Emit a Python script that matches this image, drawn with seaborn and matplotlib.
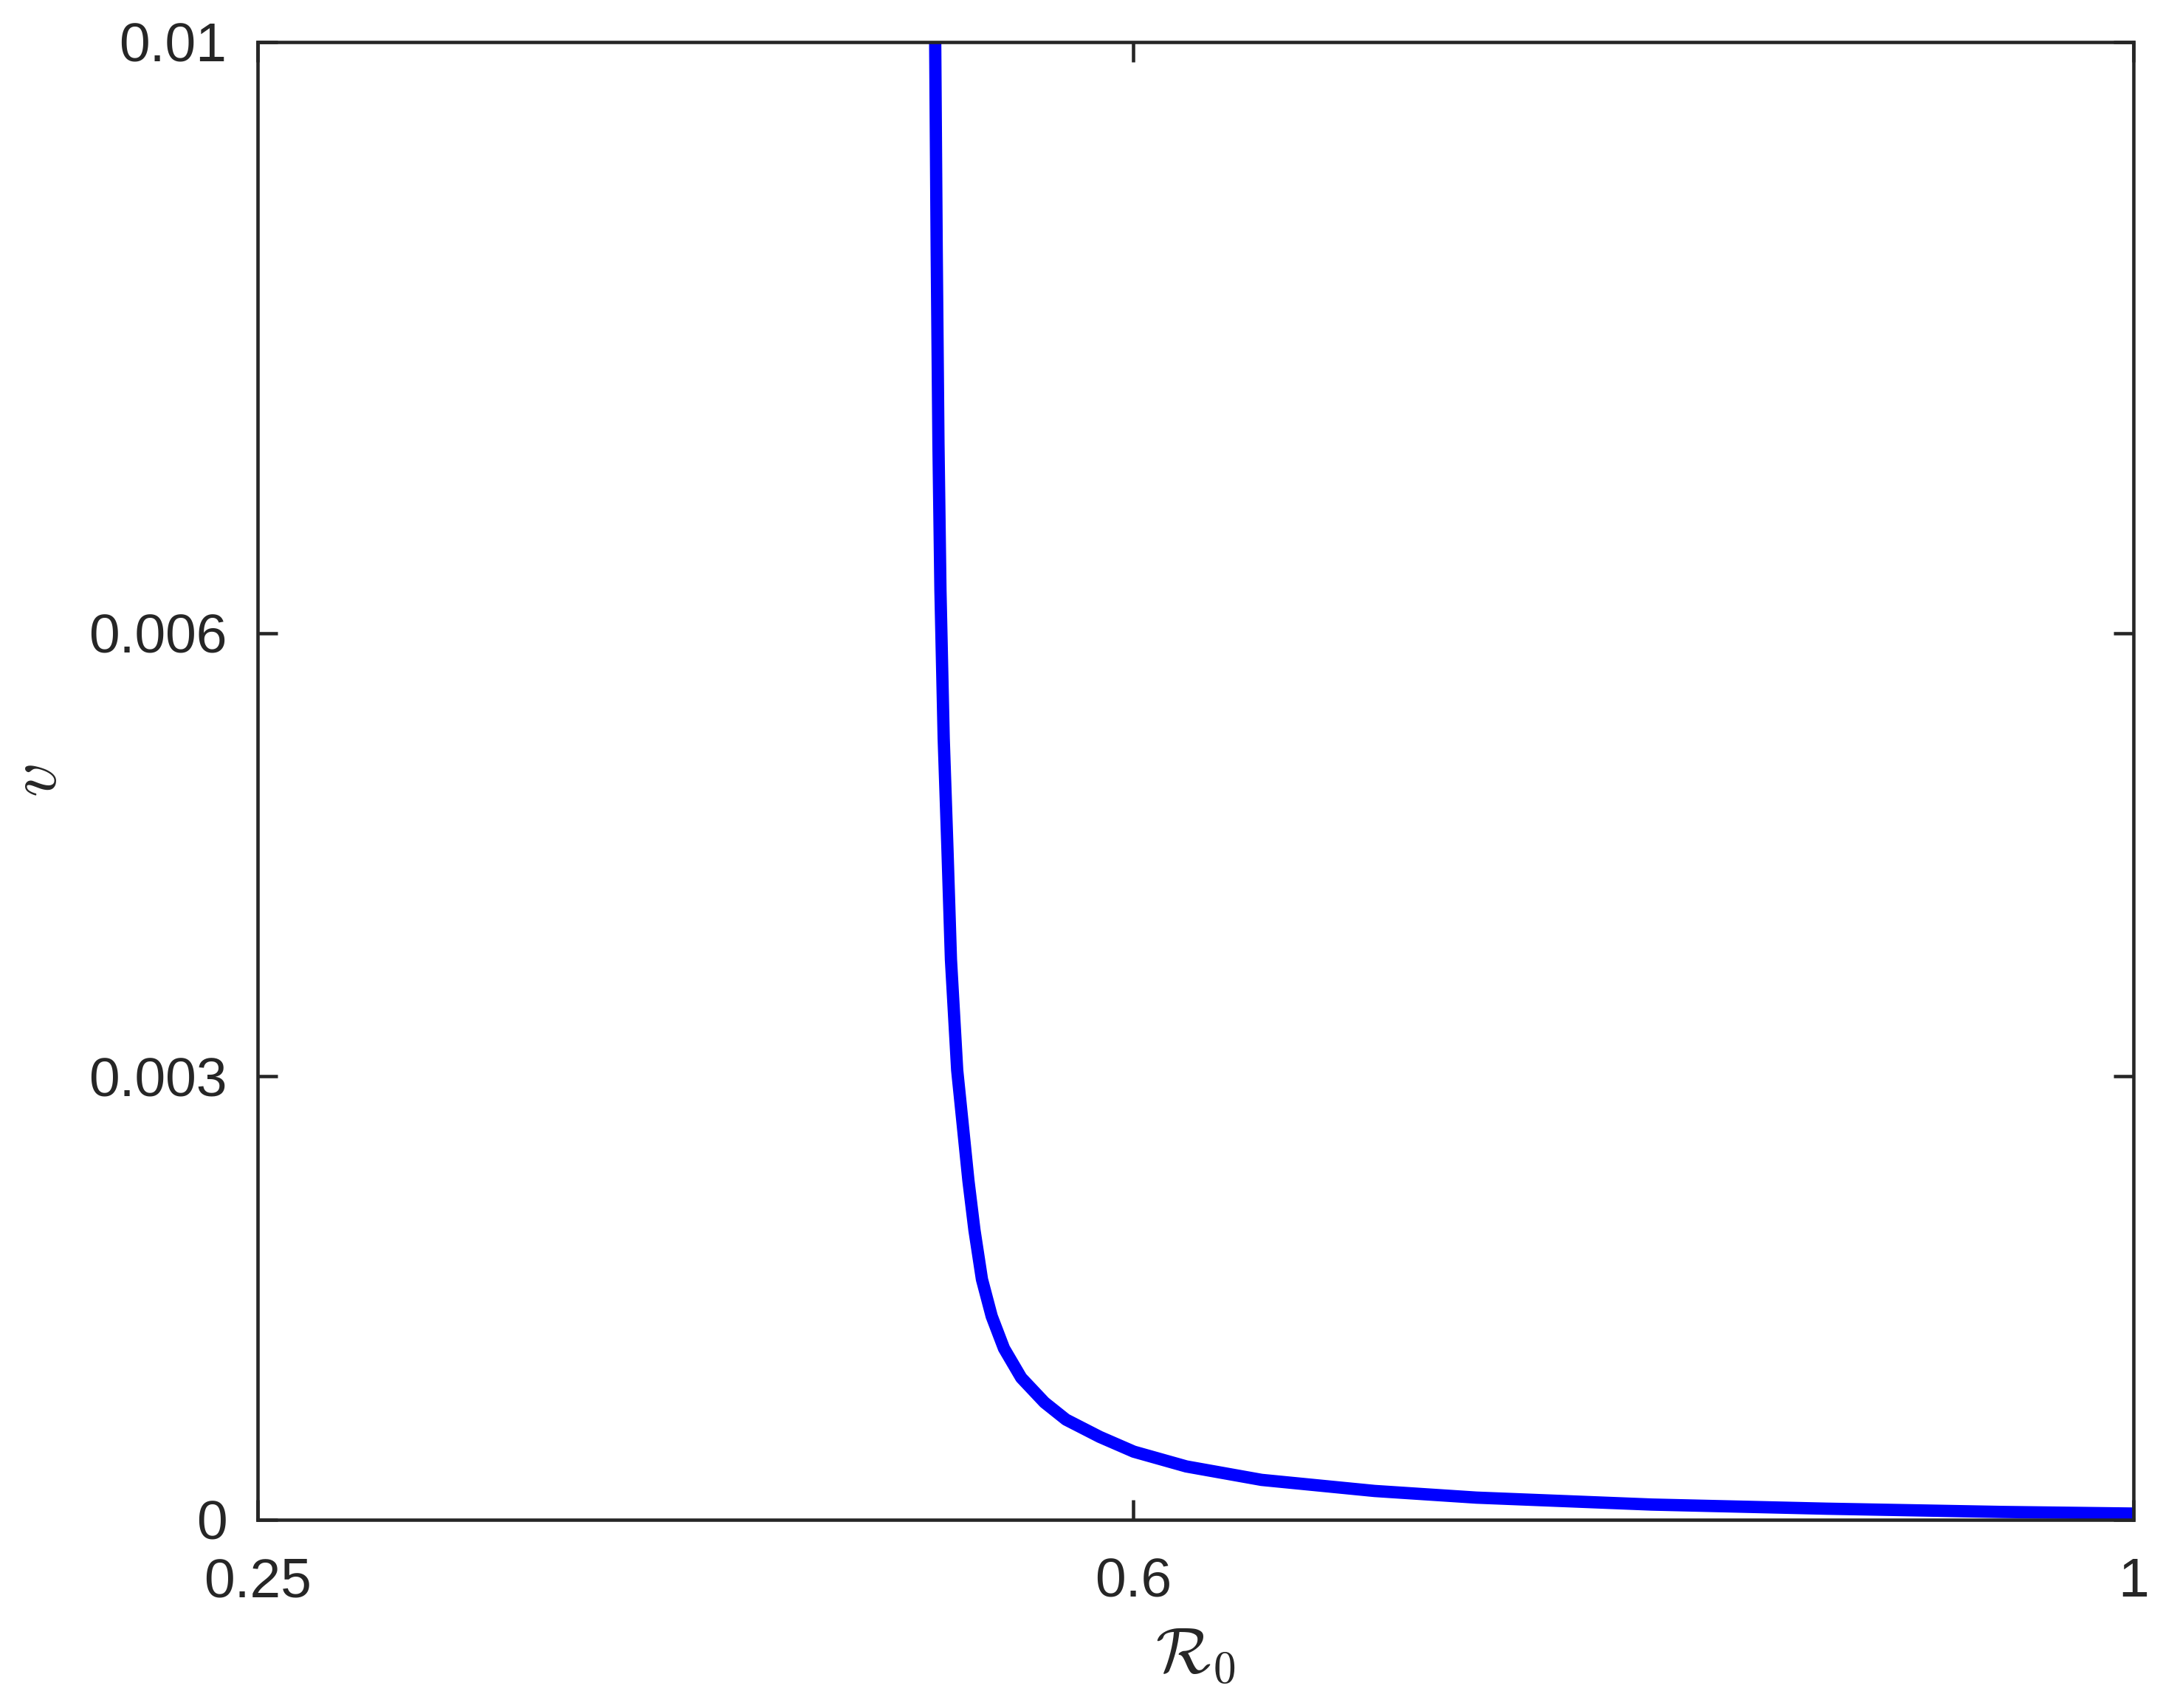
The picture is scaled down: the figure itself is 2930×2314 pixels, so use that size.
import matplotlib
matplotlib.use("Agg")
import matplotlib.pyplot as plt
import seaborn as sns
import pandas as pd

# values
r0_values = [0.5209, 0.5215, 0.5222, 0.5230, 0.5243, 0.5258, 0.5272, 0.5297,
             0.5342, 0.5366, 0.5396, 0.5435, 0.5484, 0.5553, 0.5646, 0.5732,
             0.5867, 0.6003, 0.6213, 0.6514, 0.6966, 0.7373, 0.8073, 0.8774,
             0.9474, 1.0]
v_values = [0.01, 0.0086, 0.007288, 0.006289, 0.00529, 0.00454, 0.003791, 0.003042,
            0.002293, 0.00196, 0.001627, 0.001377, 0.00116, 0.000961, 0.000794, 0.000678,
            0.000561, 0.000461, 0.000361, 0.00027, 0.000195, 0.00015, 0.000103, 0.000075,
            0.000053, 0.000042]

x_ticks = [0.25, 0.6, 1.0]
x_tick_labels = ["0.25", "0.6", "1"]
y_ticks = [0, 0.003, 0.006, 0.01]
y_tick_labels = ["0", "0.003", "0.006", "0.01"]

sns.set_style("ticks")
plt.rcParams["font.family"] = ["Liberation Sans", "DejaVu Sans"]
plt.rcParams["mathtext.fontset"] = "cm"

df = pd.DataFrame({"R0": r0_values, "v": v_values})

fig = plt.figure(figsize=(2930 / 300, 2314 / 300), dpi=300)
ax = fig.add_axes([349 / 2930, 1 - 2059 / 2314, (2890 - 349) / 2930, (2059 - 57) / 2314])

sns.lineplot(data=df, x="R0", y="v", ax=ax, color="#0000ff", lw=4.0,
             estimator=None, sort=False, solid_capstyle="butt",
             solid_joinstyle="round")

ax.set_xlim(0.25, 1.0)
ax.set_ylim(0, 0.01)
ax.set_xticks(x_ticks)
ax.set_xticklabels(x_tick_labels)
ax.set_yticks(y_ticks)
ax.set_yticklabels(y_tick_labels)

dark = "#262626"
ax.tick_params(direction="in", length=6.5, width=1.1, colors=dark,
               labelsize=18, top=True, right=True)
ax.tick_params(axis="x", pad=12)
ax.tick_params(axis="y", pad=10)
for side in ax.spines.values():
    side.set_linewidth(1.1)
    side.set_color(dark)
    side.set_visible(True)

ax.set_xlabel(r"$\mathcal{R}_0$", fontsize=21, color=dark, labelpad=6)
ax.set_ylabel(r"$v$", fontsize=22, color=dark, labelpad=6)

fig.savefig("out.png", dpi=300)
